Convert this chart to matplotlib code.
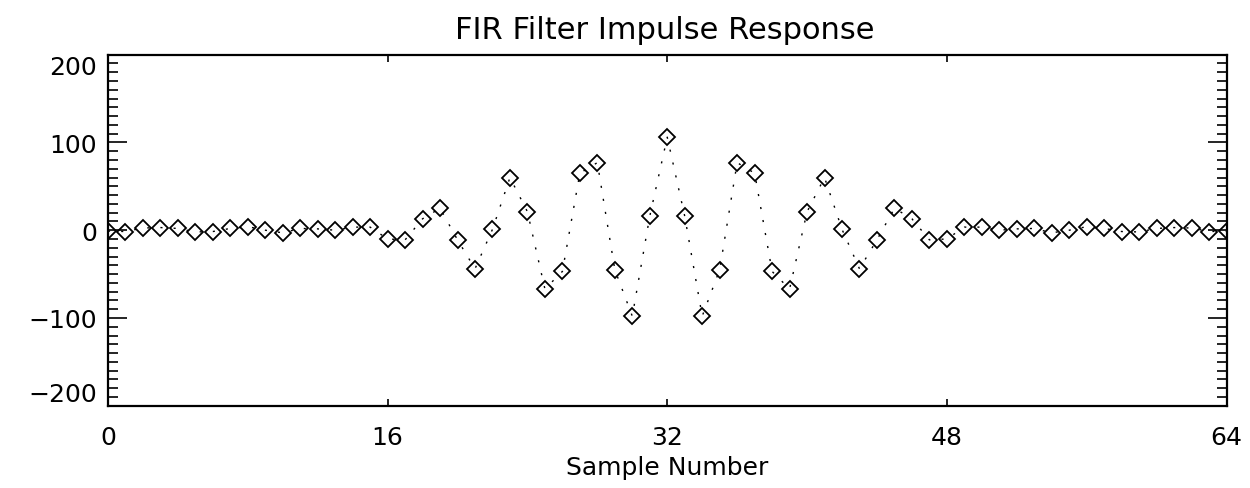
import matplotlib
matplotlib.use('Agg')
import matplotlib.pyplot as plt
from matplotlib.ticker import MultipleLocator, FixedLocator

# FIR taps (65 samples, symmetric around 32)
SAMPLES = list(range(65))
TAPS = [-1, -1.5, 2.5, 3, 2, -2, -1.5, 2, 4, 0, -3, 2, 1.5, 0, 3.5, 3.5,
        -10, -11, 13, 25, -11, -44, 1, 60, 21, -67, -47, 65, 77, -45, -98, 16,
        106,
        16, -98, -45, 77, 65, -47, -67, 21, 60, 1, -44, -11, 25, 13, -11, -10,
        3.5, 3.5, 0, 1.5, 2, -3, 0, 4, 2, -1.5, -2, 2, 3, 2.5, -1.5, -1]

X_TICKS = [0, 16, 32, 48, 64]
Y_TICKS = [-200, -100, 0, 100, 200]

TITLE = 'FIR Filter Impulse Response'
XLABEL = 'Sample Number'

plt.rcParams['font.family'] = ['DejaVu Sans']

fig = plt.figure(figsize=(12.5, 4.89), dpi=100)
ax = fig.add_axes([0.0864, 0.1683, 0.8948, 0.7178])

ax.plot(SAMPLES, TAPS, color='black', linewidth=1.0, linestyle=(0, (1.5, 8)),
        marker='D', markersize=8, markerfacecolor='none',
        markeredgecolor='black', markeredgewidth=1.3)

ax.set_xlim(0, 64)
ax.set_ylim(-200, 200)
ax.xaxis.set_major_locator(FixedLocator(X_TICKS))
ax.yaxis.set_major_locator(FixedLocator(Y_TICKS))
ax.yaxis.set_minor_locator(MultipleLocator(10))

ax.tick_params(axis='x', which='major', direction='in', top=True, bottom=True,
               length=5, width=1.2, labelsize=18, pad=14)
ax.tick_params(axis='y', which='major', direction='in', left=True, right=True,
               length=14, width=1.2, labelsize=18, pad=8)
ax.tick_params(axis='y', which='minor', direction='in', left=True, right=True,
               length=7, width=1.2)

# IDL keeps the end labels inside the axis range
ylabels = ax.get_yticklabels()
ylabels[0].set_verticalalignment('bottom')
ylabels[-1].set_verticalalignment('top')

for spine in ax.spines.values():
    spine.set_linewidth(1.6)

fig.text(0.532, 0.938, TITLE, ha='center', va='center', fontsize=22)
ax.set_xlabel(XLABEL, fontsize=18, labelpad=4)

fig.savefig('out.png', dpi=100)
